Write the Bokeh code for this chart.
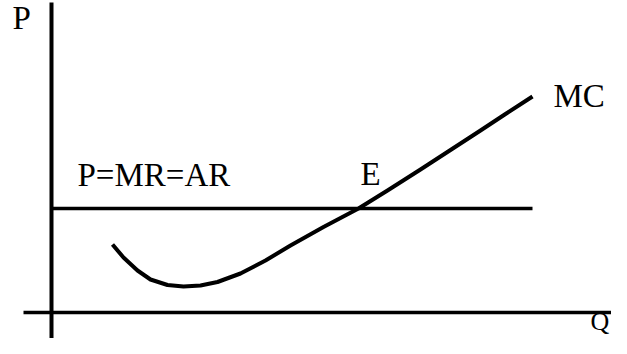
from bokeh.plotting import figure
from bokeh.models import Range1d
from bokeh.core.properties import value
from bokeh.embed import file_html
from bokeh.resources import INLINE

# Marginal cost curve (quantity, price)
mc_q = [61, 72, 86, 99, 116, 132, 149, 166, 189, 214, 239, 272, 307, 336, 369, 399, 429, 454, 481]
mc_p = [68, 55, 42, 33, 27.5, 26, 27, 30.5, 39, 52, 67, 85.5, 104, 122, 143, 162.5, 182, 198.5, 216]

# Price line P = MR = AR
price_level = 104
price_q_end = 481

labels = ["P", "P=MR=AR", "E", "MC"]
axis_label_q = "Q"

W, H = 611, 338
p = figure(width=W, height=H, output_backend="svg", toolbar_location=None,
           x_range=Range1d(-51, 560), y_range=Range1d(-26, 312),
           min_border=0, outline_line_color=None, background_fill_color="white",
           border_fill_color="white")
p.axis.visible = False
p.grid.visible = False

# axes drawn as lines
p.line([0, 0], [-40, 310], line_width=4, line_color="black")
p.line([-28, 600], [0, 0], line_width=3.5, line_color="black")

# price line
p.line([0, price_q_end], [price_level, price_level], line_width=3.5, line_color="black")

# MC curve
p.line(mc_q, mc_p, line_width=4, line_color="black", line_join="round")

font = value("Liberation Serif")
lx = [-39, 26, 309, 502]
ly = [295, 138, 139, 217]
p.text(x=lx, y=ly, text=labels, text_font=font, text_font_size="33px",
       text_color="black", text_align="left", text_baseline="alphabetic")
p.text(x=[539], y=[-9], text=[axis_label_q], text_font=font, text_font_size="26px",
       text_color="black", text_align="left", text_baseline="alphabetic")

open("out.html", "w").write(file_html(p, INLINE))
